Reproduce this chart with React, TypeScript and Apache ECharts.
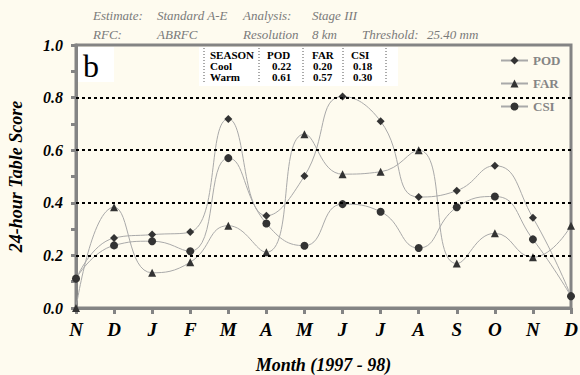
import React, { useEffect, useRef } from "react";
import * as echarts from "echarts";

const months = ["N", "D", "J", "F", "M", "A", "M", "J", "J", "A", "S", "O", "N", "D"];
const podValues = [0.11, 0.266, 0.279, 0.289, 0.719, 0.351, 0.502, 0.804, 0.71, 0.422, 0.446, 0.541, 0.343, 0.045];
const farValues = [0.0, 0.383, 0.134, 0.174, 0.313, 0.212, 0.661, 0.509, 0.518, 0.6, 0.169, 0.284, 0.193, 0.313];
const csiValues = [0.112, 0.238, 0.254, 0.216, 0.57, 0.321, 0.237, 0.395, 0.366, 0.228, 0.383, 0.424, 0.261, 0.045];
const gridValues = [0.2, 0.4, 0.6, 0.8];

const tableHeader = ["SEASON", "POD", "FAR", "CSI"];
const tableSeasons = ["Cool", "Warm"];
const tablePod = ["0.22", "0.61"];
const tableFar = ["0.20", "0.57"];
const tableCsi = ["0.18", "0.30"];

const headerRow1 = ["Estimate:", "Standard A-E", "Analysis:", "Stage III"];
const headerRow2 = ["RFC:", "ABRFC", "Resolution", "8 km", "Threshold:", "25.40 mm"];

const BG = "#FEFBEF";
const AXIS = "#848484";
const SERIF = "'Liberation Serif', 'Times New Roman', serif";

export default function App() {
  const ref = useRef<HTMLDivElement>(null);
  useEffect(() => {
    document.body.style.margin = "0";
    document.body.style.background = BG;
    const chart = echarts.init(ref.current!, null, { renderer: "svg" });

    const headerX1 = [93, 157, 243, 312];
    const headerX2 = [93, 157, 243, 312, 362, 427];
    const graphics: any[] = [];
    headerRow1.forEach((t, i) =>
      graphics.push({
        type: "text", x: headerX1[i], y: 15, z: 10,
        style: { text: t, fill: "#7a7a7a", font: `italic 13px ${SERIF}`, textVerticalAlign: "middle" },
      })
    );
    headerRow2.forEach((t, i) =>
      graphics.push({
        type: "text", x: headerX2[i], y: 34, z: 10,
        style: { text: t, fill: "#7a7a7a", font: `italic 13px ${SERIF}`, textVerticalAlign: "middle" },
      })
    );
    // b label box
    graphics.push({ type: "rect", shape: { x: 78, y: 47, width: 36, height: 35 }, style: { fill: "#ffffff" }, z: 10 });
    graphics.push({
      type: "text", x: 83, y: 66, z: 11,
      style: { text: "b", fill: "#000", font: `32px ${SERIF}`, textVerticalAlign: "middle" },
    });
    // legend cover
    graphics.push({ type: "rect", shape: { x: 487, y: 47, width: 82, height: 92 }, style: { fill: BG }, z: 3 });
    // table
    const tx0 = 199, ty0 = 47, tw = 199, th = 39;
    graphics.push({ type: "rect", shape: { x: tx0, y: ty0, width: tw, height: th }, style: { fill: "#ffffff" }, z: 10 });
    const headX = [210, 267, 312, 351];
    const valX = [210, 272, 313, 353];
    const rowY = [55, 66, 77];
    const vlines = [204, 259, 303, 343, 386];
    vlines.forEach((x) =>
      graphics.push({
        type: "line", z: 11, shape: { x1: x, y1: ty0 + 1, x2: x, y2: ty0 + th - 2 },
        style: { stroke: "#555", lineWidth: 1, lineDash: [1, 2] },
      })
    );
    const rows = [tableHeader, [tableSeasons[0], tablePod[0], tableFar[0], tableCsi[0]], [tableSeasons[1], tablePod[1], tableFar[1], tableCsi[1]]];
    rows.forEach((r, ri) =>
      r.forEach((t, ci) =>
        graphics.push({
          type: "text", x: ri === 0 ? headX[ci] : valX[ci], y: rowY[ri], z: 12,
          style: { text: t, fill: "#000", font: `bold 11px ${SERIF}`, textVerticalAlign: "middle" },
        })
      )
    );

    const mk = (name: string, data: number[], symbol: string, size: number, withGrid = false) => ({
      name,
      type: "line",
      data,
      smooth: 0.5,
      symbol,
      symbolSize: size,
      lineStyle: { color: "#a9a9a9", width: 1 },
      itemStyle: { color: "#333333" },
      z: 2,
      ...(withGrid
        ? {
            markLine: {
              silent: true,
              symbol: "none",
              label: { show: false },
              lineStyle: { color: "#000", type: [3, 3], width: 2 },
              data: gridValues.map((v) => ({ yAxis: v })),
            },
          }
        : {}),
    });

    const nameStyle = { color: "#000", fontFamily: SERIF, fontWeight: "bold", fontStyle: "italic", fontSize: 18 };

    chart.setOption({
      animation: false,
      backgroundColor: BG,
      grid: {
        left: 76, top: 45, width: 495, height: 263,
        outerBoundsMode: "none", containLabel: false,
        show: true, borderColor: AXIS, borderWidth: 3, backgroundColor: "transparent",
      },
      legend: {
        orient: "vertical",
        left: 500,
        top: 54,
        padding: 0,
        itemWidth: 27,
        itemHeight: 10,
        itemGap: 10,
        textStyle: { color: "#858585", fontFamily: SERIF, fontWeight: "bold", fontSize: 13 },
        data: ["POD", "FAR", "CSI"],
      },
      xAxis: {
        type: "category",
        data: months,
        boundaryGap: false,
        axisLine: { lineStyle: { color: AXIS, width: 3 } },
        axisTick: { show: true, length: 6, alignWithLabel: true, lineStyle: { color: AXIS, width: 3 } },
        axisLabel: { interval: 0, margin: 12, color: "#000", fontFamily: SERIF, fontWeight: "bold", fontStyle: "italic", fontSize: 19 },
        name: "Month (1997 - 98)",
        nameLocation: "middle",
        nameGap: 48,
        nameTextStyle: nameStyle,
        splitLine: { show: false },
      },
      yAxis: {
        type: "value",
        min: 0,
        max: 1,
        interval: 0.2,
        axisLine: { show: true, lineStyle: { color: AXIS, width: 3 } },
        axisTick: { show: true, length: 5, lineStyle: { color: AXIS, width: 3 } },
        minorTick: { show: true, splitNumber: 2, length: 5, lineStyle: { color: AXIS, width: 3 } },
        axisLabel: {
          margin: 13,
          formatter: (v: number) => v.toFixed(1),
          color: "#000", fontFamily: SERIF, fontWeight: "bold", fontStyle: "italic", fontSize: 16,
        },
        splitLine: { show: false },
        name: "24-hour Table Score",
        nameLocation: "middle",
        nameGap: 51,
        nameTextStyle: nameStyle,
      },
      graphic: graphics,
      series: [
        mk("POD", podValues, "diamond", 8, true),
        mk("FAR", farValues, "triangle", 8),
        mk("CSI", csiValues, "circle", 8),
      ],
    });
    return () => chart.dispose();
  }, []);
  return <div ref={ref} style={{ width: 580, height: 375 }} />;
}
